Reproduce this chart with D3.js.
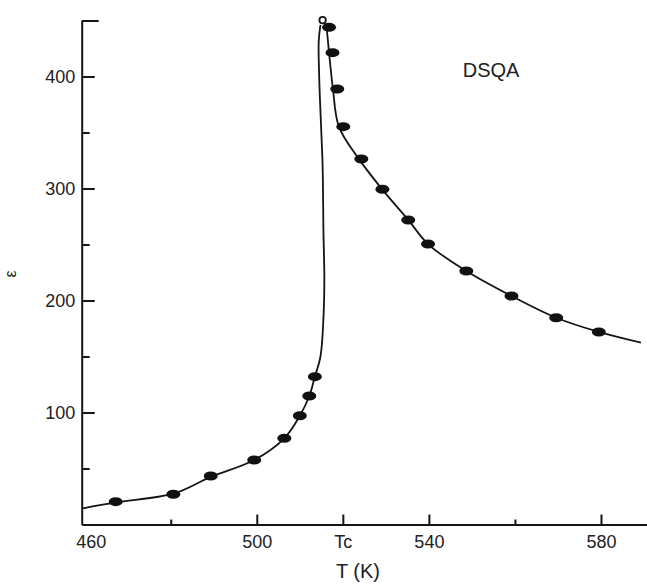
<!DOCTYPE html>
<html>
<head>
<meta charset="utf-8">
<script src="https://cdn.jsdelivr.net/npm/d3@7"></script>
<style>
  html, body { margin: 0; padding: 0; background: #fff; }
  svg { display: block; }
  text { font-family: "Liberation Sans", Arial, sans-serif; fill: #222; }
</style>
</head>
<body>
<div id="chart"></div>
<script>
// ---- data ----
const pointT = [467.2, 480.6, 489.3, 499.4, 506.4, 510.0, 512.2, 513.5,
                516.8, 517.6, 518.7, 520.1, 524.3, 529.2, 535.2, 539.8, 548.7, 559.2, 569.6, 579.5];
const pointE = [20.4, 27.0, 43.3, 57.6, 77.0, 97.1, 114.7, 132.0,
                443.9, 421.3, 388.8, 355.2, 326.3, 299.3, 271.9, 250.4, 226.3, 204.0, 184.6, 171.9];

// fitted curve, rising branch (below Tc)
const leftT = [459.6, 467.2, 480.6, 489.3, 499.4, 506.4, 510.0, 512.2, 513.5, 514.8, 515.5, 515.7, 515.5, 515.3, 515.0, 514.5, 514.4, 514.8];
const leftE = [14.5, 19.8, 27.5, 42.5, 57.6, 77.0, 97.0, 114.7, 132.0, 150.0, 185.0, 220.0, 260.0, 320.0, 350.0, 400.0, 432.0, 446.0];
// fitted curve, falling branch (above Tc)
const rightT = [515.9, 516.2, 516.8, 517.7, 519.1, 523.8, 529.2, 535.2, 539.8, 548.7, 559.2, 569.6, 579.5, 589.3];
const rightE = [447.0, 443.0, 421.0, 389.0, 355.0, 326.0, 299.0, 272.0, 250.4, 226.3, 204.0, 184.6, 171.9, 162.3];
const peakT = 515.3, peakE = 450.3;

const xTickValues = [460, 500, 520, 540, 580];
const xTickLabels = ["460", "500", "Tc", "540", "580"];
const xMinorTicks = [480, 560];
const yTickValues = [100, 200, 300, 400];
const yMinorTicks = [50, 150, 250, 350];
const yTopTick = [450];

const W = 647, H = 584;
const svg = d3.select("#chart").append("svg").attr("width", W).attr("height", H);
svg.append("rect").attr("width", W).attr("height", H).attr("fill", "#fff");

const x = d3.scaleLinear().domain([459.3, 590.7]).range([81.7, 647]);
const y = d3.scaleLinear().domain([0, 450]).range([524.5, 20.5]);

const ink = "#151515";
function styleAxis(g, fontSize) {
  g.attr("font-family", null).attr("font-size", null);
  g.selectAll("path.domain").attr("stroke", ink).attr("stroke-width", 2);
  g.selectAll(".tick line").attr("stroke", ink).attr("stroke-width", 2);
  g.selectAll(".tick text").attr("font-size", fontSize).attr("fill", "#222");
}

// Y axis
const yAxisG = svg.append("g").attr("transform", `translate(${x.range()[0]},0)`)
  .call(d3.axisLeft(y).tickValues(yTickValues).tickSizeInner(-13).tickSizeOuter(0).tickPadding(6.5).tickFormat(d3.format("d")));
styleAxis(yAxisG, 18);
const yMinorG = svg.append("g").attr("transform", `translate(${x.range()[0]},0)`)
  .call(d3.axisLeft(y).tickValues(yMinorTicks).tickSizeInner(-8).tickSizeOuter(0).tickFormat(""));
yMinorG.select("path.domain").remove();
styleAxis(yMinorG, 18);
const yTopG = svg.append("g").attr("transform", `translate(${x.range()[0]},0)`)
  .call(d3.axisLeft(y).tickValues(yTopTick).tickSizeInner(-17).tickSizeOuter(0).tickFormat(""));
yTopG.select("path.domain").remove();
styleAxis(yTopG, 18);

// X axis
const xAxisG = svg.append("g").attr("transform", `translate(0,${y(0)})`)
  .call(d3.axisBottom(x).tickValues(xTickValues).tickSizeInner(-10).tickSizeOuter(0).tickPadding(11)
    .tickFormat((d, i) => xTickLabels[i]));
styleAxis(xAxisG, 18);
xAxisG.selectAll(".tick").filter(d => d === 460).select("line").remove();
xAxisG.selectAll(".tick").filter(d => d === 460).select("text").attr("dx", 6);
const xMinorG = svg.append("g").attr("transform", `translate(0,${y(0)})`)
  .call(d3.axisBottom(x).tickValues(xMinorTicks).tickSizeInner(-5).tickSizeOuter(0).tickFormat(""));
xMinorG.select("path.domain").remove();
styleAxis(xMinorG, 18);

// Fitted curve
const line = d3.line().x(d => x(d[0])).y(d => y(d[1])).curve(d3.curveCatmullRom.alpha(0.5));
const leftData = leftT.map((t, i) => [t, leftE[i]]);
const rightData = rightT.map((t, i) => [t, rightE[i]]);
svg.append("path").datum(leftData).attr("d", line)
  .attr("fill", "none").attr("stroke", ink).attr("stroke-width", 1.8);
svg.append("path").datum(rightData).attr("d", line)
  .attr("fill", "none").attr("stroke", ink).attr("stroke-width", 1.8);
svg.append("circle").attr("cx", x(peakT)).attr("cy", y(peakE)).attr("r", 3.2)
  .attr("fill", "#fff").attr("stroke", ink).attr("stroke-width", 1.8);

// Data points
svg.append("g").selectAll("ellipse").data(pointT.map((t, i) => [t, pointE[i]])).join("ellipse")
  .attr("cx", d => x(d[0])).attr("cy", d => y(d[1]))
  .attr("rx", 7).attr("ry", 4.5).attr("fill", "#111");

// Labels
svg.append("text").attr("x", 358).attr("y", 578).attr("text-anchor", "middle")
  .attr("font-size", 20).text("T (K)");
svg.append("text").attr("transform", "translate(16,274) rotate(-90)").attr("text-anchor", "middle")
  .attr("font-size", 16).text("ε");
svg.append("text").attr("x", 462.7).attr("y", 77).attr("font-size", 20).text("DSQA");
</script>
</body>
</html>
